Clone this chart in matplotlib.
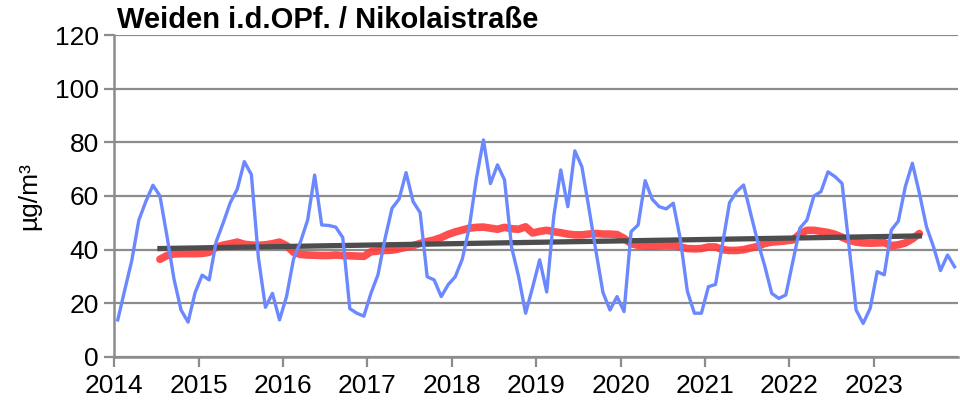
import numpy as np
import matplotlib.pyplot as plt

plt.rcParams['font.family'] = ['Liberation Sans', 'DejaVu Sans']

# monthly NO2 means, Jan 2014 .. Dec 2023
monthly = [13.8, 25.0, 36.0, 51.0, 58.0, 64.0, 60.0, 45.0, 29.0, 17.5, 13.0, 24.0,
           30.5, 28.7, 43.0, 50.0, 57.5, 62.6, 72.8, 68.0, 37.0, 18.5, 23.7, 13.8,
           22.5, 36.5, 43.0, 51.0, 67.8, 49.2, 49.0, 48.4, 44.5, 18.0, 16.3, 15.2,
           23.7, 30.6, 44.0, 55.4, 58.8, 68.7, 57.9, 53.8, 29.9, 28.7, 22.5, 27.0,
           29.9, 36.5, 48.5, 66.5, 80.9, 64.6, 71.6, 66.0, 41.0, 30.0, 16.3, 26.0,
           36.2, 24.2, 52.3, 69.7, 56.0, 76.8, 70.9, 55.5, 39.5, 24.0, 17.5, 22.5,
           16.9, 46.7, 49.2, 65.7, 58.8, 56.0, 55.2, 57.3, 44.0, 24.5, 16.3, 16.3,
           26.2, 27.0, 42.0, 57.5, 61.6, 64.1, 53.5, 43.0, 34.0, 23.7, 21.8, 23.1,
           35.5, 48.0, 51.0, 60.0, 61.6, 69.0, 67.2, 64.7, 41.1, 17.5, 12.5, 18.1,
           31.8, 30.6, 47.3, 50.6, 63.5, 72.2, 61.0, 48.6, 41.1, 32.2, 38.0, 33.6]

# 12-month running mean, starts at month index 6
running_start = 6
running = [36.4, 37.8, 38.4, 38.5, 38.5, 38.5, 38.6, 39.0, 40.9, 41.7, 42.2, 42.8,
           42.0, 41.7, 41.6, 41.8, 42.2, 42.8, 41.5, 39.0, 38.2, 38.0, 37.9, 37.8,
           37.8, 38.0, 37.8, 37.7, 37.6, 37.5, 39.2, 39.5, 39.7, 39.8, 40.3, 40.9,
           41.5, 42.3, 43.0, 43.6, 44.5, 45.7, 46.6, 47.3, 48.0, 48.3, 48.4, 48.0,
           47.6, 48.3, 47.8, 47.6, 48.5, 46.2, 46.8, 47.2, 46.7, 46.3, 45.8, 45.5,
           45.5, 45.8, 46.0, 45.8, 45.8, 45.6, 44.2, 42.2, 41.6, 41.3, 41.2, 41.5,
           41.7, 41.6, 41.0, 40.4, 40.3, 40.4, 41.0, 41.0, 40.0, 39.7, 39.7, 40.0,
           40.6, 41.2, 42.3, 42.8, 43.0, 43.3, 43.6, 45.8, 47.2, 47.2, 46.8, 46.4,
           45.7, 44.6, 43.5, 42.8, 42.5, 42.4, 42.5, 42.6, 41.5, 41.8, 42.5, 44.0,
           46.0]

# linear trend, endpoints (month index, value)
trend_months = [6, 114]
trend_values = [40.4, 45.1]

years = list(range(2014, 2024))
yticks = [0, 20, 40, 60, 80, 100, 120]


def month_pos(idx):
    return 2014 + (np.asarray(idx) + 0.5) / 12


def main():
    fig = plt.figure(figsize=(9.6, 4.07), dpi=100)
    ax = fig.add_axes([0.119, 0.123, 0.879, 0.791])

    x_month = month_pos(np.arange(len(monthly)))
    x_run = month_pos(np.arange(running_start, running_start + len(running)))

    ax.plot(x_run, running, color='#ff3b3b', linewidth=5.5, alpha=0.9,
            solid_capstyle='round', zorder=3)
    ax.plot(month_pos(trend_months), trend_values, color='#4d4d4d',
            linewidth=3.8, zorder=4)
    ax.plot(x_month, monthly, color='#6b88ff', linewidth=2.4, zorder=5)

    ax.set_xlim(2014, 2024)
    ax.set_ylim(0, 120)
    ax.set_xticks(years)
    ax.set_xticklabels([str(y) for y in years])
    ax.set_yticks(yticks)

    ax.grid(axis='y', color='#8c8c8c', linewidth=1.6)
    ax.set_axisbelow(True)
    for side in ['top', 'right']:
        ax.spines[side].set_visible(False)
    for side in ['left', 'bottom']:
        ax.spines[side].set_color('#8c8c8c')
        ax.spines[side].set_linewidth(1.8)

    ax.tick_params(axis='both', colors='#8c8c8c', width=1.6, length=7,
                   labelsize=19, labelcolor='black')
    ax.tick_params(axis='x', pad=5)
    ax.tick_params(axis='y', pad=4)

    ax.set_ylabel('µg/m³', fontsize=19, labelpad=10)
    fig.text(0.122, 0.931, 'Weiden i.d.OPf. / Nikolaistraße', fontsize=21,
             fontweight='bold', ha='left', va='baseline')

    fig.savefig('out.png', dpi=100)


if __name__ == '__main__':
    main()
